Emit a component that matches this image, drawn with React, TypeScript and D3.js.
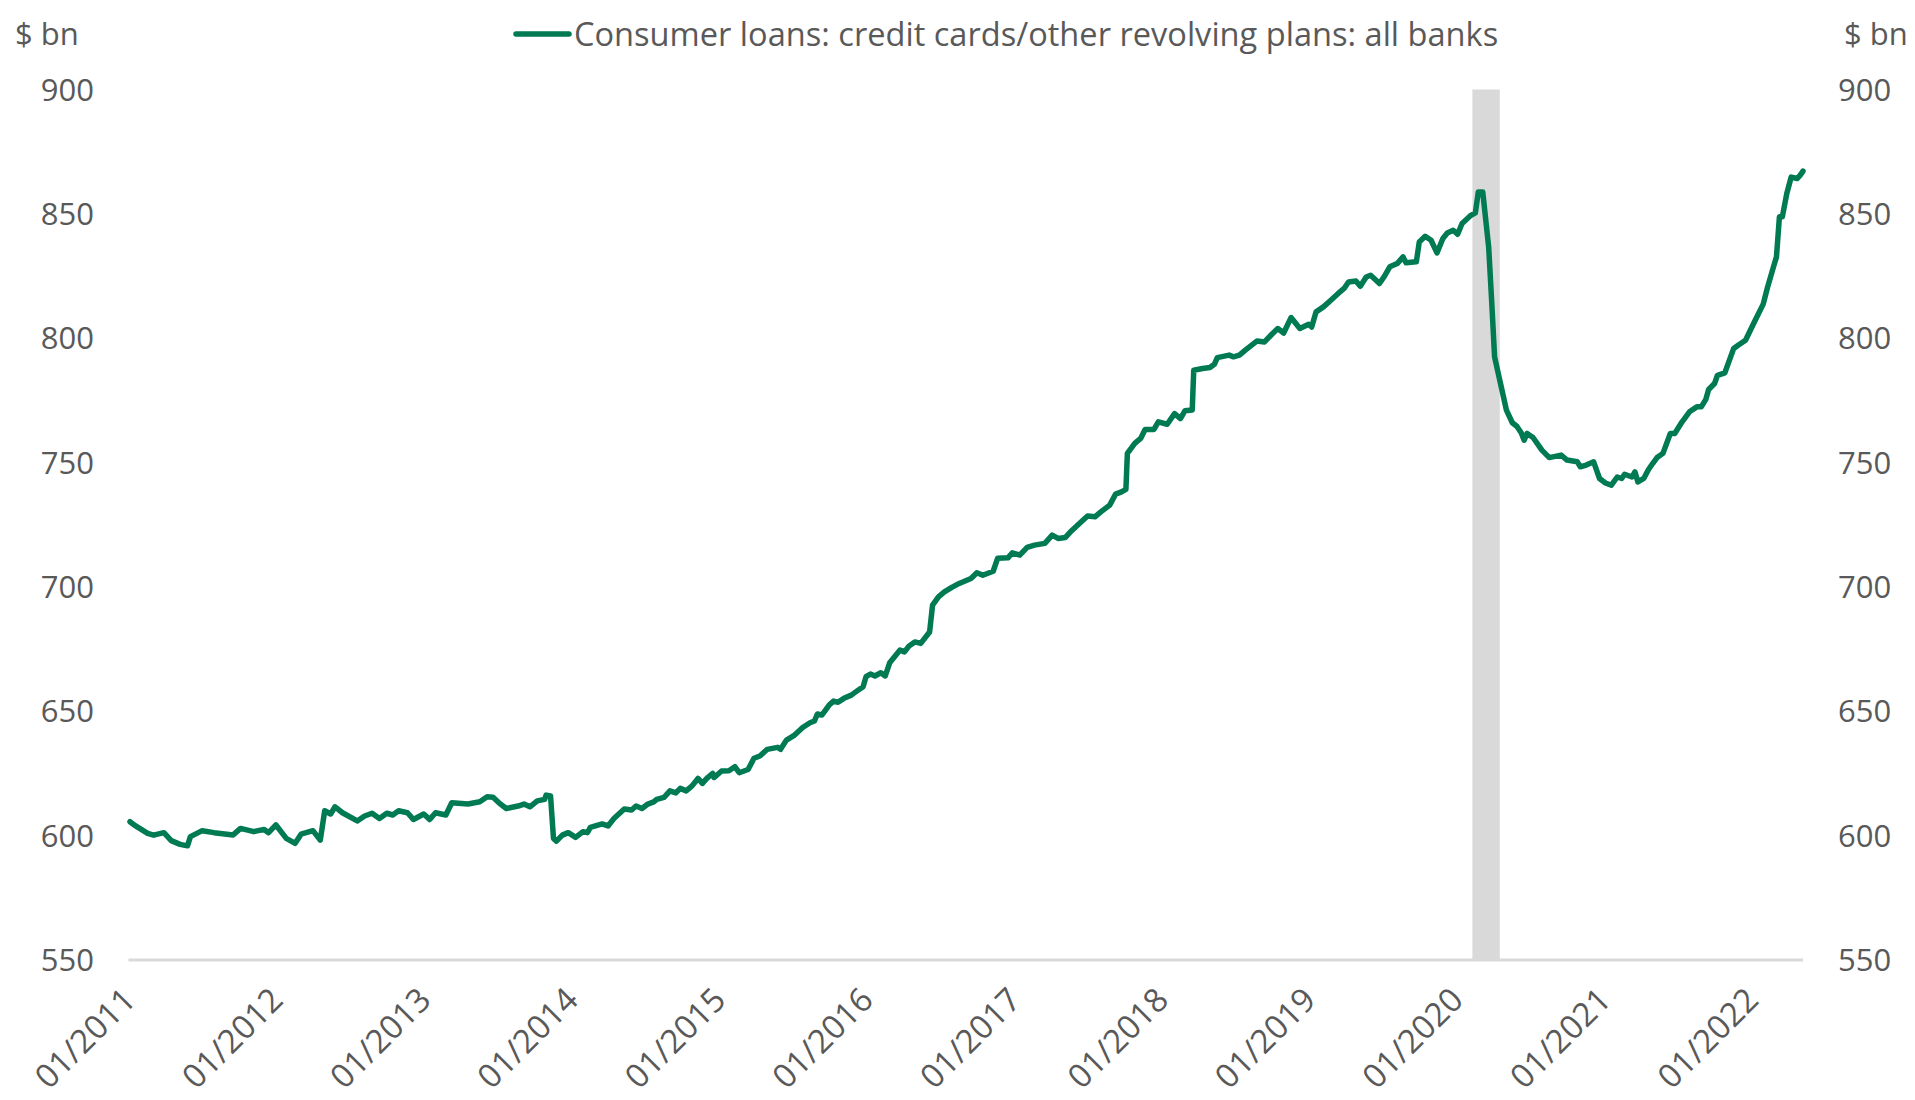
import React from "react";
import * as d3 from "d3";

// Decimal-year positions of the readings (weekly series)
const years: number[] = [
  2011.01, 2011.04, 2011.13, 2011.17, 2011.24, 2011.29, 2011.35, 2011.40, 2011.42, 2011.50,
  2011.58, 2011.71, 2011.76, 2011.85, 2011.92, 2011.95, 2012.00, 2012.07, 2012.13, 2012.17,
  2012.25, 2012.30, 2012.33, 2012.37, 2012.40, 2012.45, 2012.55, 2012.60, 2012.65, 2012.70,
  2012.75, 2012.79, 2012.83, 2012.89, 2012.93, 2013.00, 2013.04, 2013.08, 2013.15, 2013.19,
  2013.30, 2013.38, 2013.43, 2013.47, 2013.51, 2013.56, 2013.64, 2013.68, 2013.72, 2013.77,
  2013.82, 2013.83, 2013.86, 2013.88, 2013.90, 2013.94, 2013.98, 2014.03, 2014.08, 2014.11,
  2014.13, 2014.21, 2014.25, 2014.29, 2014.36, 2014.41, 2014.44, 2014.48, 2014.52, 2014.56,
  2014.58, 2014.63, 2014.67, 2014.71, 2014.74, 2014.78, 2014.82, 2014.86, 2014.89, 2014.92,
  2014.96, 2014.97, 2015.02, 2015.07, 2015.11, 2015.14, 2015.20, 2015.24, 2015.28, 2015.33,
  2015.40, 2015.42, 2015.46, 2015.51, 2015.57, 2015.62, 2015.65, 2015.67, 2015.70, 2015.75,
  2015.78, 2015.81, 2015.85, 2015.90, 2015.93, 2015.98, 2016.00, 2016.03, 2016.06, 2016.10,
  2016.13, 2016.16, 2016.23, 2016.26, 2016.29, 2016.33, 2016.37, 2016.43, 2016.45, 2016.49,
  2016.53, 2016.58, 2016.63, 2016.71, 2016.75, 2016.79, 2016.86, 2016.89, 2016.96, 2016.99,
  2017.04, 2017.09, 2017.14, 2017.21, 2017.26, 2017.30, 2017.35, 2017.39, 2017.45, 2017.50,
  2017.55, 2017.59, 2017.65, 2017.69, 2017.73, 2017.76, 2017.77, 2017.82, 2017.86, 2017.89,
  2017.95, 2017.98, 2018.04, 2018.09, 2018.13, 2018.16, 2018.21, 2018.22, 2018.28, 2018.33,
  2018.36, 2018.38, 2018.46, 2018.49, 2018.53, 2018.57, 2018.65, 2018.70, 2018.75, 2018.79,
  2018.83, 2018.88, 2018.94, 2019.00, 2019.02, 2019.05, 2019.10, 2019.15, 2019.20, 2019.24,
  2019.27, 2019.32, 2019.35, 2019.39, 2019.42, 2019.48, 2019.51, 2019.55, 2019.60, 2019.64,
  2019.66, 2019.73, 2019.75, 2019.79, 2019.83, 2019.87, 2019.91, 2019.94, 2019.98, 2020.01,
  2020.04, 2020.10, 2020.13, 2020.15, 2020.18, 2020.22, 2020.24, 2020.26, 2020.31, 2020.34,
  2020.38, 2020.41, 2020.44, 2020.46, 2020.48, 2020.52, 2020.58, 2020.63, 2020.71, 2020.75,
  2020.82, 2020.84, 2020.88, 2020.93, 2020.97, 2021.01, 2021.05, 2021.09, 2021.12, 2021.14,
  2021.19, 2021.21, 2021.23, 2021.27, 2021.30, 2021.33, 2021.36, 2021.40, 2021.45, 2021.48,
  2021.53, 2021.58, 2021.63, 2021.66, 2021.69, 2021.71, 2021.75, 2021.77, 2021.82, 2021.88,
  2021.91, 2021.96, 2022.02, 2022.08, 2022.11, 2022.15, 2022.17, 2022.19, 2022.21, 2022.24,
  2022.27, 2022.31, 2022.33, 2022.35,
];

// Consumer loans: credit cards/other revolving plans, all banks ($ bn)
const loans: number[] = [
  605.6, 604.2, 600.9, 600.2, 601.2, 598.0, 596.5, 595.9, 599.6, 602.0,
  601.2, 600.3, 602.9, 601.6, 602.5, 601.2, 604.3, 598.9, 596.9, 600.6,
  602.0, 598.2, 610.0, 608.7, 611.6, 609.2, 605.9, 607.9, 609.0, 606.9,
  609.0, 608.3, 610.0, 609.2, 606.5, 608.7, 606.5, 609.2, 608.3, 613.2,
  612.7, 613.6, 615.6, 615.4, 613.2, 610.9, 611.9, 612.7, 611.6, 614.0,
  614.6, 616.3, 616.0, 598.9, 597.8, 600.2, 601.2, 599.3, 601.6, 601.2,
  603.3, 604.7, 603.9, 606.9, 610.7, 610.3, 611.9, 610.9, 612.7, 613.6,
  614.6, 615.4, 618.0, 617.2, 619.0, 618.0, 620.0, 623.0, 621.0, 623.0,
  625.0, 623.4, 626.0, 626.1, 627.7, 625.3, 626.6, 631.1, 632.0, 634.7,
  635.5, 634.7, 638.4, 640.2, 643.5, 645.4, 646.1, 648.9, 648.5, 652.5,
  654.1, 653.6, 655.2, 656.5, 657.8, 659.9, 663.9, 665.0, 664.2, 665.5,
  664.2, 669.5, 674.6, 673.9, 676.2, 677.9, 677.3, 681.9, 692.7, 696.0,
  698.0, 699.8, 701.4, 703.4, 705.7, 704.7, 706.3, 711.5, 711.7, 713.7,
  712.8, 715.9, 716.8, 717.5, 720.8, 719.5, 719.9, 722.5, 725.8, 728.5,
  728.2, 730.2, 732.9, 737.3, 738.2, 739.2, 753.7, 757.7, 759.7, 763.3,
  763.3, 766.4, 765.4, 769.7, 767.7, 770.8, 771.1, 787.1, 787.8, 788.2,
  789.5, 792.2, 793.2, 792.5, 793.2, 795.2, 798.9, 798.5, 801.6, 803.9,
  802.1, 808.3, 803.9, 805.6, 804.5, 810.6, 812.6, 815.3, 818.0, 820.0,
  822.6, 823.0, 820.9, 824.6, 825.3, 822.0, 824.6, 828.7, 830.0, 832.7,
  830.3, 830.7, 838.7, 841.0, 839.4, 834.3, 840.1, 842.3, 843.4, 841.8,
  846.1, 849.4, 850.4, 858.8, 858.8, 836.7, 815.3, 792.5, 779.1, 771.1,
  766.0, 764.6, 762.0, 759.0, 761.7, 760.1, 755.0, 752.0, 753.0, 751.0,
  750.3, 748.3, 749.0, 750.3, 743.6, 741.8, 740.9, 744.2, 743.6, 745.3,
  744.2, 746.3, 742.2, 743.6, 747.0, 749.6, 752.0, 753.7, 761.7, 761.7,
  766.4, 770.4, 772.4, 772.4, 775.3, 779.4, 781.8, 785.1, 786.1, 795.9,
  797.2, 799.2, 806.5, 813.7, 820.6, 828.7, 832.7, 848.8, 848.8, 858.2,
  864.8, 864.2, 865.5, 867.2,
];

const tickYears: number[] = [2011, 2012, 2013, 2014, 2015, 2016, 2017, 2018, 2019, 2020, 2021, 2022];
const yTicks: number[] = [550, 600, 650, 700, 750, 800, 850, 900];
const recession: number[] = [2020.11, 2020.295];

const seriesName = "Consumer loans: credit cards/other revolving plans: all banks";
const unitLabel = "$ bn";

const toDate = (y: number) => {
  const yr = Math.floor(y);
  const s = Date.UTC(yr, 0, 1);
  const e = Date.UTC(yr + 1, 0, 1);
  return new Date(s + (y - yr) * (e - s));
};

const W = 1915;
const H = 1100;
const left = 128.5;
const right = 1803;
const top = 89.5;
const bottom = 960;
const FONT = "'Open Sans', sans-serif";
const GREY = "#595959";
const GREEN = "#007A53";

export default function App() {
  const data = years.map((y, i) => ({ d: toDate(y), v: loans[i] }));
  const x = d3.scaleUtc().domain([toDate(2011), data[data.length - 1].d]).range([left, right]);
  const y = d3.scaleLinear().domain([550, 900]).range([bottom, top]);
  const line = d3
    .line<{ d: Date; v: number }>()
    .x((p) => x(p.d))
    .y((p) => y(p.v));

  const fs = 31;
  const fsX = 33;
  const fsL = 32.6;
  return (
    <svg
      width={W}
      height={H}
      style={{ position: "absolute", left: 0, top: 0, background: "#fff" }}
      fontFamily={FONT}
    >
      <rect
        x={x(toDate(recession[0]))}
        y={top}
        width={x(toDate(recession[1])) - x(toDate(recession[0]))}
        height={bottom - top}
        fill="#D9D9D9"
      />
      <line x1={left} x2={right} y1={bottom} y2={bottom} stroke="#D9D9D9" strokeWidth={3} />
      <path d={line(data) || ""} fill="none" stroke={GREEN} strokeWidth={5.5} strokeLinejoin="round" strokeLinecap="round" />

      {yTicks.map((t) => (
        <g key={t}>
          <text x={94} y={y(t) + fs * 0.36} textAnchor="end" fontSize={fs} fill={GREY}>
            {t}
          </text>
          <text x={1838} y={y(t) + fs * 0.36} textAnchor="start" fontSize={fs} fill={GREY}>
            {t}
          </text>
        </g>
      ))}

      {tickYears.map((yr) => {
        const tx = x(toDate(yr));
        return (
          <text
            key={yr}
            transform={`translate(${tx + 9},${bottom + 42}) rotate(-45)`}
            textAnchor="end"
            fontSize={fsX}
            fill={GREY}
          >
            {`01/${yr}`}
          </text>
        );
      })}

      <text x={15} y={34 + fs * 0.36} fontSize={fs} fill={GREY}>
        {unitLabel}
      </text>
      <text x={1844} y={34 + fs * 0.36} fontSize={fs} fill={GREY}>
        {unitLabel}
      </text>

      <line x1={516} x2={569} y1={34} y2={34} stroke={GREEN} strokeWidth={5.5} strokeLinecap="round" />
      <text x={574} y={34 + fsL * 0.36} fontSize={fsL} fill={GREY}>
        {seriesName}
      </text>
    </svg>
  );
}
